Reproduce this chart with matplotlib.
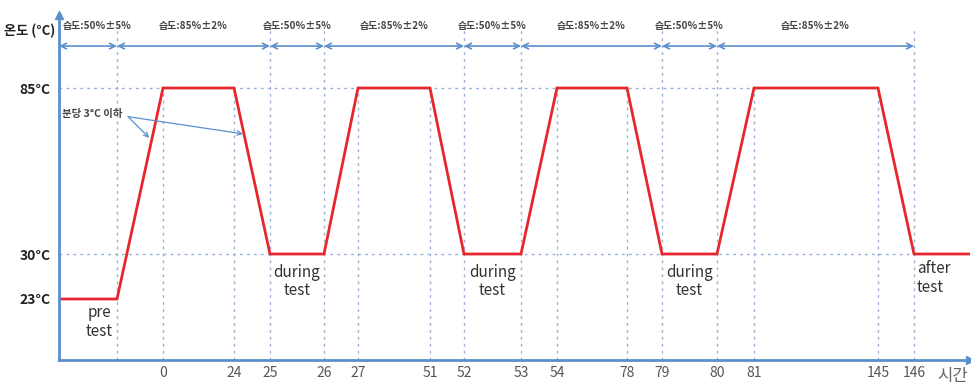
import numpy as np
import matplotlib
matplotlib.use('Agg')
import matplotlib.pyplot as plt

plt.rcParams['font.family'] = ['Noto Sans CJK KR', 'DejaVu Sans']

# temperature profile (hours, deg C)
hours = [-3, -1, 0, 24, 25, 26, 27, 51, 52, 53, 54, 78, 79, 80, 81, 145, 146, 148]
temps = [23, 23, 85, 85, 30, 30, 85, 85, 30, 30, 85, 85, 30, 30, 85, 85, 30, 30]

# labelled time ticks
tick_hours = [0, 24, 25, 26, 27, 51, 52, 53, 54, 78, 79, 80, 81, 145, 146]
temp_levels = [23, 30, 85]
temp_labels = ['23°C', '30°C', '85°C']

# humidity segments
hum_bounds = [-3, -1, 25, 26, 52, 53, 79, 80, 146]
hum_labels = ['습도:50%±5%', '습도:85%±2%'] * 4

# lines reaching the humidity row vs. only up to 85°C
tall_lines = [-1, 25, 26, 52, 53, 79, 80, 146]
short_lines = [0, 24, 27, 51, 54, 78, 81, 145]

# schematic (non-linear) axis spacing
x_break = [-3, -1, 0, 24, 25, 26, 27, 51, 52, 53, 54, 78, 79, 80, 81, 145, 146, 148]
x_pos = [0, 58, 104, 175, 211, 265, 299, 371, 405, 462, 498, 568, 603, 658, 695, 819, 855, 911]
y_break = [0, 23, 30, 85, 110]
y_pos = [0, 61, 106, 272, 345]


def fwd_x(v):
    return np.interp(v, x_break, x_pos)


def inv_x(v):
    return np.interp(v, x_pos, x_break)


def fwd_y(v):
    return np.interp(v, y_break, y_pos)


def inv_y(v):
    return np.interp(v, y_pos, y_break)


axis_col = '#5b8fcb'
grid_col = '#9bb0d6'
red = '#e8262e'

fig = plt.figure(figsize=(9.71, 3.86), dpi=100)
ax = fig.add_axes([59 / 971, 26 / 386, 911 / 971, 345 / 386])
ax.set_xscale('function', functions=(fwd_x, inv_x))
ax.set_yscale('function', functions=(fwd_y, inv_y))
ax.set_xlim(-3, 148)
ax.set_ylim(0, 110)

for s in ['top', 'right']:
    ax.spines[s].set_visible(False)
for s in ['left', 'bottom']:
    ax.spines[s].set_color(axis_col)
    ax.spines[s].set_linewidth(2)
ax.plot(1, 0, '>', color=axis_col, ms=6, transform=ax.transAxes, clip_on=False)
ax.plot(0, 1, '^', color=axis_col, ms=6, transform=ax.transAxes, clip_on=False)

# guide lines
ax.hlines(85, -3, 81, colors=grid_col, linestyles=(0, (2, 3)), lw=1)
ax.hlines(30, -3, 148, colors=grid_col, linestyles=(0, (2, 3)), lw=1)
ax.vlines(short_lines, 0, 85, colors=grid_col, linestyles=(0, (2, 3)), lw=1)
for h in tall_lines:
    ax.axvline(h, ymin=0, ymax=0.957, color=grid_col, ls=(0, (2, 3)), lw=1)

# profile
ax.plot(hours, temps, color=red, lw=2, solid_joinstyle='miter')

# ticks
ax.set_xticks(tick_hours)
ax.set_xticklabels([str(h) for h in tick_hours])
ax.minorticks_off()
ax.tick_params(axis='x', length=0, pad=4, labelsize=10, labelcolor='#555555')
ax.set_yticks(temp_levels)
ax.set_yticklabels(temp_labels, fontweight='bold')
ax.tick_params(axis='y', length=0, pad=6, labelsize=10, labelcolor='#222222')

# humidity arrows
trans = ax.get_xaxis_transform()
for i in range(len(hum_bounds) - 1):
    a, b = hum_bounds[i], hum_bounds[i + 1]
    ax.annotate('', xy=(b, 0.91), xytext=(a, 0.91), xycoords=trans, textcoords=trans,
                arrowprops=dict(arrowstyle='<->', color=axis_col, lw=1.2,
                                shrinkA=0, shrinkB=0, mutation_scale=10),
                annotation_clip=False)
    # keep the first (narrow) label clear of the y axis
    mid = inv_x(max((fwd_x(a) + fwd_x(b)) / 2, 38))
    ax.text(mid, 0.968, hum_labels[i], transform=trans, ha='center', va='center',
            fontsize=7.2, color='#444444', fontweight='bold')

# ramp-rate note
ax.text(-2.9, 76.4, '분당 3°C 이하', fontsize=7.5, color='#444444', fontweight='bold',
        ha='left', va='center')
for tgt in [(-0.3, 68.5), (24.25, 69.8)]:
    ax.annotate('', xy=tgt, xytext=(-0.76, 75.5),
                arrowprops=dict(arrowstyle='->', color=axis_col, lw=0.9,
                                shrinkA=0, shrinkB=0, mutation_scale=8))

# phase labels
ax.text(-1.6, 21, 'pre\ntest', ha='center', va='top', fontsize=11, color='#333333',
        linespacing=1.1)
for a, b in [(25, 26), (52, 53), (79, 80)]:
    mid = inv_x((fwd_x(a) + fwd_x(b)) / 2)
    ax.text(mid, 28.5, 'during\ntest', ha='center', va='top', fontsize=11,
            color='#333333', linespacing=1.1)
ax.text(146.1, 29, 'after\ntest', ha='left', va='top', fontsize=11, color='#333333',
        linespacing=1.1)

# axis titles
fig.text(55 / 971, 1 - 31 / 386, '온도 (°C)', ha='right', va='center', fontsize=9.5,
         fontweight='bold', color='#222222')
fig.text(968 / 971, 1 - 377 / 386, '시간', ha='right', va='center', fontsize=12,
         color='#666666')

fig.savefig('out.png', dpi=100)
